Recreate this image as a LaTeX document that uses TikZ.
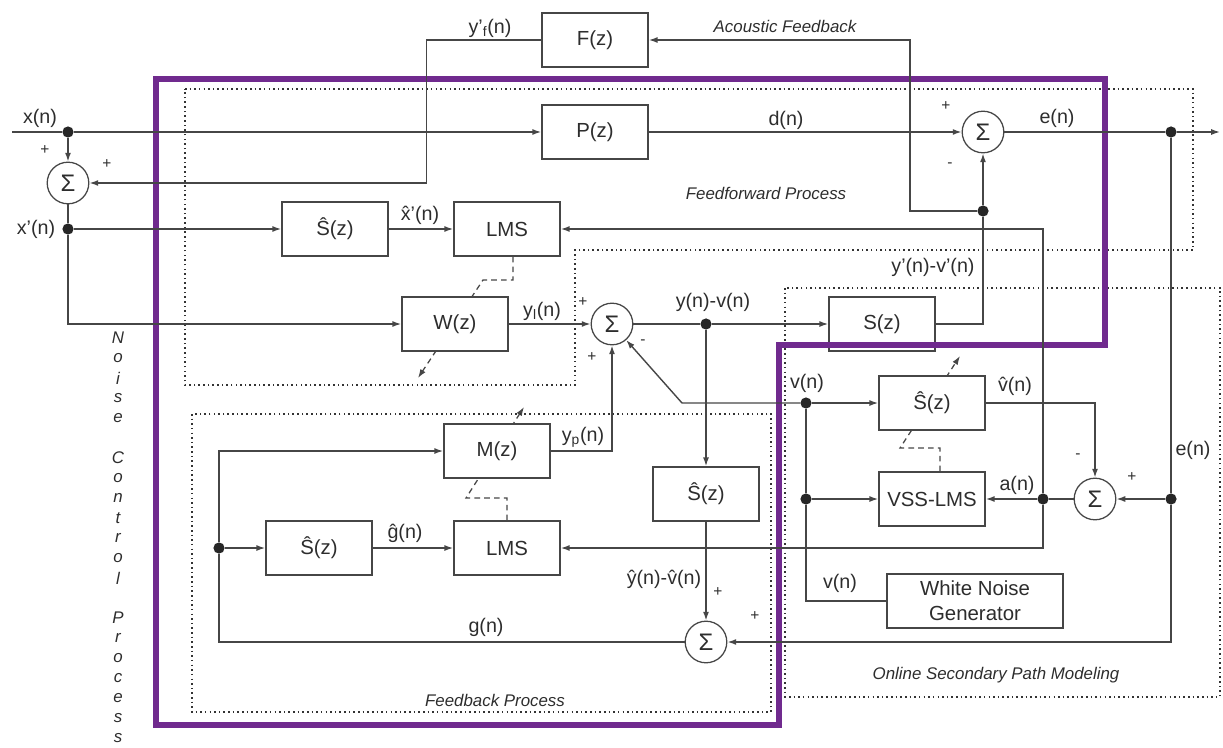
\documentclass[tikz,border=0pt]{standalone}
\usepackage{fontspec}
\setmainfont{Liberation Sans}
\usetikzlibrary{arrows.meta,backgrounds}

\definecolor{wire}{RGB}{70,70,70}
\definecolor{ink}{RGB}{45,45,45}
\definecolor{anc}{RGB}{112,42,142}

\tikzset{
  blk/.style={draw=wire, fill=white, line width=1.1pt, minimum width=2.65cm, minimum height=1.35cm, inner sep=0pt, text=ink, font=\fontsize{14.5}{17}\selectfont},
  sumnode/.style={circle, draw=wire, fill=white, line width=0.9pt, minimum size=1.04cm, inner sep=0pt, text=ink, font=\fontsize{17}{17}\selectfont},
  jdot/.style={circle, fill=black!85, inner sep=0pt, minimum size=0.28cm},
  sig/.style={draw=wire, line width=1pt},
  arr/.style={-{Latex[length=0.22cm,width=0.15cm]}},
  adapt/.style={draw=wire, line width=0.9pt, dash pattern=on 4pt off 3pt},
  region/.style={draw=black!80, line width=1.1pt, dash pattern=on 1.1pt off 2.2pt},
  border/.style={draw=anc, line width=3.6pt},
  lbl/.style={text=ink, inner sep=0pt, font=\fontsize{14}{16}\selectfont},
  pm/.style={text=ink, inner sep=0pt, font=\fontsize{11}{12}\selectfont},
  captxt/.style={text=ink, inner sep=0pt, font=\fontsize{12}{14}\selectfont\itshape},
}

\begin{document}
\begin{tikzpicture}[x=0.025cm, y=-0.025cm]
\useasboundingbox (0,0) rectangle (1223,748);

% blocks
\node[blk] (Fz) at (595,40) {F(z)};
\node[blk] (Pz) at (595,132) {P(z)};
\node[blk] (S1) at (335,229) {\^S(z)};
\node[blk] (LMS1) at (507,229) {LMS};
\node[blk] (Wz) at (455,324) {W(z)};
\node[blk] (Sz) at (882,324) {S(z)};
\node[blk] (Mz) at (497,451) {M(z)};
\node[blk] (S2) at (319,548) {\^S(z)};
\node[blk] (LMS2) at (507,548) {LMS};
\node[blk] (S3) at (932,403) {\^S(z)};
\node[blk] (VSS) at (932,499) {VSS-LMS};
\node[blk] (S4) at (706,494) {\^S(z)};
\node[blk, minimum width=4.4cm, align=center, font=\fontsize{14.5}{18}\selectfont] (WNG) at (975,601) {White Noise\\Generator};

\node[sumnode] (sumA) at (68,183) {Σ};
\node[sumnode] (sumB) at (612,324) {Σ};
\node[sumnode] (sumE) at (983,132) {Σ};
\node[sumnode] (sumC) at (1095,499) {Σ};
\node[sumnode] (sumD) at (706,642) {Σ};

\node[jdot] (jx) at (68,132) {};
\node[jdot] (jxp) at (68,229) {};
\node[jdot] (jy) at (706,324) {};
\node[jdot] (jS) at (983,211) {};
\node[jdot] (je) at (1171,132) {};
\node[jdot] (je2) at (1171,499) {};
\node[jdot] (ja) at (1043,499) {};
\node[jdot] (jv1) at (806,403) {};
\node[jdot] (jv2) at (806,499) {};
\node[jdot] (jg) at (219,548) {};
\coordinate (xin) at (12,132);
\coordinate (xout) at (1220,132);

% adaptation arrows, behind the blocks
\begin{pgfonlayer}{background}
\draw[adapt,arr] ([xshift=0.15cm]LMS1.south) |- (483,280) -- (418,378);
\draw[adapt,arr] (LMS2.north) |- (466,498) -- (524,407);
\draw[adapt,arr] ([xshift=0.2cm]VSS.north) |- (900,448) -- (960,356);
\end{pgfonlayer}

% process regions
\draw[region] (185,89) -- (1193,89) -- (1193,250) -- (575,250) -- (575,385) -- (185,385) -- cycle;
\draw[region] (192,414) rectangle (771,712);
\draw[region] (785,288) rectangle (1220,697);
\draw[border] (156,79) -- (1105,79) -- (1105,345) -- (779,345) -- (779,725) -- (156,725) -- cycle;

% signal paths
\draw[sig] (xin) -- (jx);
\draw[sig,arr] (jx) -- (Pz);
\draw[sig,arr] (jx) -- (sumA);
\draw[sig,arr] (Fz.west) -- ++(-115,0) |- (sumA.east);
\draw[sig] (sumA) -- (jxp);
\draw[sig,arr] (jxp) -- (S1);
\draw[sig,arr] (S1) -- (LMS1);
\draw[sig,arr] (jxp) |- (Wz.west);
\draw[sig,arr] (Wz) -- (sumB);
\draw[sig] (sumB) -- (jy);
\draw[sig,arr] (jy) -- (Sz);
\draw[sig] (Sz.east) -| (jS);
\draw[sig,arr] (jS) -- (sumE);
\draw[sig,arr] (jS) -- ++(-73,0) |- (Fz.east);
\draw[sig,arr] (Pz) -- (sumE);
\draw[sig] (sumE) -- (je);
\draw[sig,arr] (je) -- (xout);
\draw[sig] (je) -- (je2);
\draw[sig,arr] (je2) -- (sumC);
\draw[sig,arr] (je2) |- (sumD.east);
\draw[sig] (sumC) -- (ja);
\draw[sig,arr] (ja) -- (VSS);
\draw[sig,arr] (ja) |- (LMS1.east);
\draw[sig,arr] (ja) |- (LMS2.east);
\draw[sig,arr] (S3.east) -| (sumC.north);
\draw[sig,arr] (jv1) -- (S3);
\draw[sig] (jv1) -- (jv2);
\draw[sig,arr] (jv2) -- (VSS);
\draw[sig] (WNG.west) -| (jv2);
\draw[sig,arr] (jv1) -- ++(-124,0) -- (sumB);
\draw[sig,arr] (Mz.east) -| (sumB.south);
\draw[sig,arr] (jy) -- (S4);
\draw[sig,arr] (S4) -- (sumD);
\draw[sig] (sumD.west) -| (jg);
\draw[sig,arr] (jg) |- (Mz.west);
\draw[sig,arr] (jg) -- (S2);
\draw[sig,arr] (S2) -- (LMS2);

% labels
\node[lbl] (lxn) at (40,118) {x(n)};
\node[lbl] (lxp) at (36,229) {x'(n)};
\node[lbl] (lyf) at (490,28) {y'\textsubscript{f}(n)};
\node[lbl] (ldn) at (786,120) {d(n)};
\node[lbl] (len) at (1057,118) {e(n)};
\node[lbl] (lxh) at (420,215) {\^x'(n)};
\node[lbl] (lyl) at (542,311) {y\textsubscript{l}(n)};
\node[lbl] (lyv) at (713,302) {y(n)-v(n)};
\node[lbl] (lyvp) at (933,267) {y'(n)-v'(n)};
\node[lbl] (lv1) at (807,383) {v(n)};
\node[lbl] (lvh) at (1015,386) {\^v(n)};
\node[lbl] (lan) at (1017,485) {a(n)};
\node[lbl] (le2) at (1193,450) {e(n)};
\node[lbl] (lyp) at (583,437) {y\textsubscript{p}(n)};
\node[lbl] (lgh) at (405,533) {\^g(n)};
\node[lbl] (lyvh) at (664,579) {\^y(n)-\^v(n)};
\node[lbl] (lv2) at (840,583) {v(n)};
\node[lbl] (lgn) at (486,627) {g(n)};

\node[pm] (pA1) at (45,150) {+};
\node[pm] (pA2) at (107,164) {+};
\node[pm] (pE1) at (946,106) {+};
\node[pm] (pE2) at (950,165) {-};
\node[pm] (pB1) at (583,302) {+};
\node[pm] (pB2) at (592,357) {+};
\node[pm] (pB3) at (643,342) {-};
\node[pm] (pC1) at (1078,456) {-};
\node[pm] (pC2) at (1132,477) {+};
\node[pm] (pD1) at (718,592) {+};
\node[pm] (pD2) at (755,616) {+};

\node[captxt] (cAF) at (785,26) {Acoustic Feedback};
\node[captxt] (cFF) at (766,193) {Feedforward Process};
\node[captxt] (cFB) at (495,700) {Feedback Process};
\node[captxt] (cOS) at (996,675) {Online Secondary Path Modeling};
\foreach \c [count=\k from 0] in {N,o,i,s,e,{},C,o,n,t,r,o,l,{},P,r,o,c,e,s,s}
  \node[captxt] (nc\k) at (118,{338+20*\k}) {\c};

\end{tikzpicture}
\end{document}
